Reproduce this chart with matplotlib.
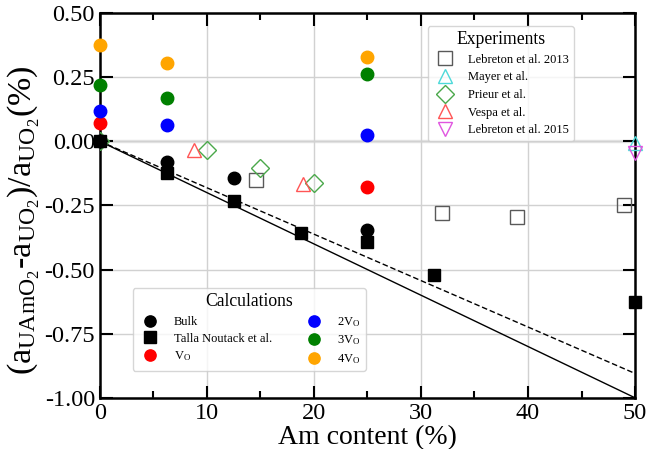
import numpy as np
import matplotlib
matplotlib.use("Agg")
import matplotlib.pyplot as plt

plt.rcParams['font.family'] = ['Liberation Serif', 'DejaVu Serif']
plt.rcParams['mathtext.fontset'] = 'custom'
plt.rcParams['mathtext.rm'] = 'Liberation Serif'
plt.rcParams['mathtext.it'] = 'Liberation Serif:italic'

# calculations
bulk_x = [0, 6.25, 12.5, 25]
bulk_y = [0, -0.081, -0.142, -0.346]
talla_x = [0, 6.25, 12.5, 18.75, 25, 31.25, 50]
talla_y = [0, -0.125, -0.233, -0.357, -0.393, -0.52, -0.628]
vo1_x = [0, 25]
vo1_y = [0.072, -0.177]
vo2_x = [0, 6.25, 25]
vo2_y = [0.117, 0.065, 0.023]
vo3_x = [0, 6.25, 25]
vo3_y = [0.221, 0.167, 0.262]
vo4_x = [0, 6.25, 25]
vo4_y = [0.376, 0.305, 0.328]

# experiments
leb13_x = [14.6, 32, 39, 49]
leb13_y = [-0.151, -0.279, -0.296, -0.25]
mayer_x = [50]
mayer_y = [-0.005]
prieur_x = [0, 10, 15, 20]
prieur_y = [0, -0.034, -0.105, -0.164]
vespa_x = [8.8, 19]
vespa_y = [-0.035, -0.165]
leb15_x = [50]
leb15_y = [-0.044]

# reference lines
line_x = [0, 50]
vegard_y = [0, -1.0]
dashed_y = [0, -0.905]

fig, ax = plt.subplots(figsize=(6.48, 4.49), dpi=100)
fig.subplots_adjust(left=0.154, right=0.98, top=0.971, bottom=0.114)

ax.grid(True, color='0.82', lw=1, zorder=0)
ax.axhline(0, color='0.9', lw=2.5, zorder=0)

ax.plot(line_x, vegard_y, color='k', lw=1, zorder=2)
ax.plot(line_x, dashed_y, color='k', lw=1, ls='--', dashes=(4, 2), zorder=2)

ms_open = 10
e1, = ax.plot(leb13_x, leb13_y, 's', ms=ms_open, mfc='none', mec='0.35', mew=1, ls='none', zorder=3, label='Lebreton et al. 2013')
e2, = ax.plot(mayer_x, mayer_y, '^', ms=ms_open, mfc='none', mec='#4dd9d9', mew=1, ls='none', zorder=3, label='Mayer et al.', clip_on=False)
e3, = ax.plot(prieur_x, prieur_y, 'D', ms=9, mfc='none', mec='#4aa84a', mew=1, ls='none', zorder=3, label='Prieur et al.')
e4, = ax.plot(vespa_x, vespa_y, '^', ms=ms_open, mfc='none', mec='#ff5555', mew=1, ls='none', zorder=3, label='Vespa et al.')
e5, = ax.plot(leb15_x, leb15_y, 'v', ms=ms_open, mfc='none', mec='#e055e0', mew=1, ls='none', zorder=3, label='Lebreton et al. 2015', clip_on=False)

ms = 9
c1, = ax.plot(bulk_x, bulk_y, 'o', ms=ms, color='k', ls='none', zorder=4, label='Bulk', clip_on=False)
c2, = ax.plot(talla_x, talla_y, 's', ms=ms, color='k', ls='none', zorder=4, label='Talla Noutack et al.', clip_on=False)
c3, = ax.plot(vo1_x, vo1_y, 'o', ms=ms, color='red', ls='none', zorder=4, label=r'V$_\mathrm{O}$', clip_on=False)
c4, = ax.plot(vo2_x, vo2_y, 'o', ms=ms, color='blue', ls='none', zorder=4, label=r'2V$_\mathrm{O}$', clip_on=False)
c5, = ax.plot(vo3_x, vo3_y, 'o', ms=ms, color='green', ls='none', zorder=4, label=r'3V$_\mathrm{O}$', clip_on=False)
c6, = ax.plot(vo4_x, vo4_y, 'o', ms=ms, color='orange', ls='none', zorder=4, label=r'4V$_\mathrm{O}$', clip_on=False)

ax.set_xlim(0, 50)
ax.set_ylim(-1.0, 0.5)
ax.set_xticks([0, 10, 20, 30, 40, 50])
ax.set_xticks([5, 15, 25, 35, 45], minor=True)
ax.set_yticks([-1.0, -0.75, -0.5, -0.25, 0.0, 0.25, 0.5])
ax.yaxis.set_major_formatter(matplotlib.ticker.FormatStrFormatter('%.2f'))
ax.tick_params(which='major', direction='in', length=9, width=1.5, top=True, right=True, labelsize=17.5)
ax.tick_params(which='minor', direction='in', length=5, width=1.5, top=True, right=True)
for s in ax.spines.values():
    s.set_linewidth(1.8)

ax.set_xlabel('Am content (%)', fontsize=20, labelpad=1)
ax.set_ylabel(r'(a$_\mathrm{UAmO_2}$-a$_\mathrm{UO_2}$)/a$_\mathrm{UO_2}$(%)', fontsize=24.5)
ax.yaxis.set_label_coords(-0.108, 0.462)

leg1 = ax.legend(handles=[e1, e2, e3, e4, e5], title='Experiments', loc='upper left',
                 bbox_to_anchor=(0.613, 0.966), fontsize=9, title_fontsize=12.7,
                 handletextpad=0.8, borderaxespad=0, labelspacing=0.45)
ax.add_artist(leg1)
ax.legend(handles=[c1, c2, c3, c4, c5, c6], title='Calculations', ncol=2, loc='lower left',
          bbox_to_anchor=(0.062, 0.07), fontsize=9, title_fontsize=12.7,
          handletextpad=0.85, columnspacing=2.4, markerscale=0.9, borderaxespad=0,
          labelspacing=0.38)

fig.savefig('out.png', dpi=100)
